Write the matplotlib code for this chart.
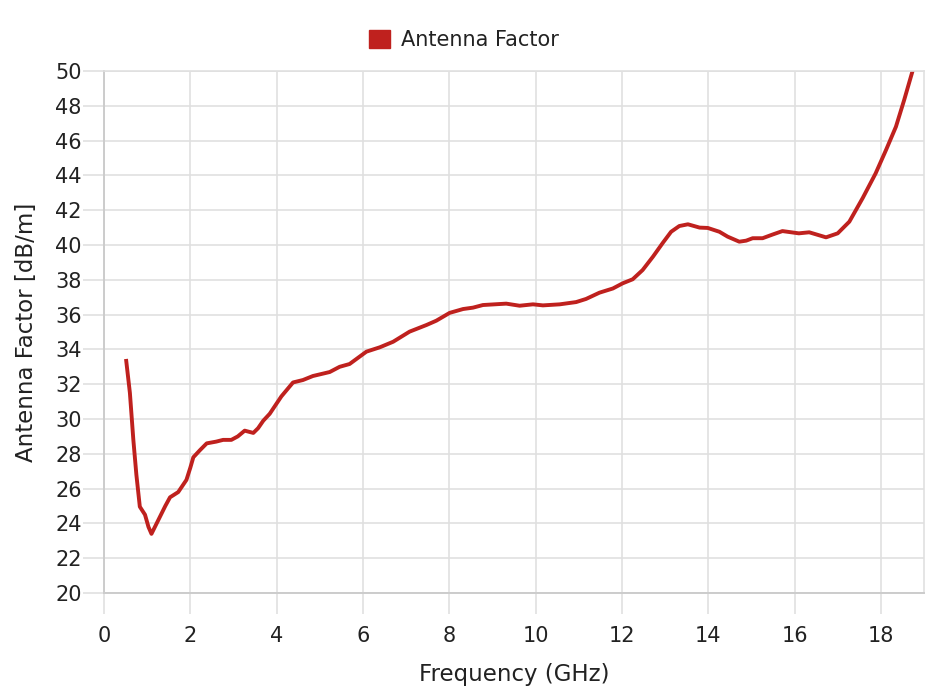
import numpy as np
from matplotlib import pyplot as plt

plt.rcParams['font.family'] = ['DejaVu Sans']

# antenna factor
freq_ghz = [0.51, 0.60, 0.68, 0.75, 0.83, 0.95, 1.03, 1.10, 1.18, 1.30, 1.42, 1.53,
            1.72, 1.91, 2.00, 2.07, 2.22, 2.38, 2.60, 2.76, 2.95, 3.10, 3.26, 3.46,
            3.57, 3.69, 3.84, 4.11, 4.38, 4.61, 4.84, 5.23, 5.46, 5.69, 6.08, 6.39,
            6.70, 7.08, 7.47, 7.70, 8.01, 8.32, 8.55, 8.78, 9.32, 9.63, 9.94, 10.17,
            10.56, 10.94, 11.17, 11.48, 11.79, 12.02, 12.25, 12.48, 12.72, 12.95,
            13.14, 13.33, 13.53, 13.80, 13.99, 14.26, 14.45, 14.72, 14.88, 15.03,
            15.26, 15.49, 15.72, 16.10, 16.34, 16.73, 17.00, 17.27, 17.58, 17.88,
            18.12, 18.35, 18.54, 18.73, 18.80]
af_db = [33.45, 31.5, 28.8, 26.8, 24.96, 24.5, 23.8, 23.4, 23.8, 24.4, 25.0, 25.5,
         25.8, 26.5, 27.2, 27.8, 28.2, 28.6, 28.7, 28.8, 28.8, 29.0, 29.33, 29.2,
         29.47, 29.9, 30.3, 31.3, 32.1, 32.24, 32.47, 32.7, 33.0, 33.16, 33.87, 34.12,
         34.44, 35.02, 35.4, 35.65, 36.1, 36.32, 36.4, 36.55, 36.63, 36.51, 36.59, 36.53,
         36.59, 36.72, 36.9, 37.26, 37.5, 37.8, 38.03, 38.56, 39.33, 40.13,
         40.76, 41.09, 41.19, 41.0, 40.98, 40.76, 40.48, 40.19, 40.25, 40.39,
         40.39, 40.6, 40.8, 40.67, 40.73, 40.44, 40.67, 41.34, 42.7, 44.12,
         45.46, 46.8, 48.33, 49.96, 50.4]

x_ticks = np.arange(0, 20, 2)
y_ticks = np.arange(20, 52, 2)
line_color = '#bf211e'
text_color = '#222222'

fig = plt.figure(figsize=(9.3, 6.96), dpi=100)
ax = fig.add_axes([104 / 930, 103 / 696, 820 / 930, 522 / 696])

ax.plot(freq_ghz, af_db, color=line_color, lw=2.8, solid_joinstyle='round',
        solid_capstyle='butt', label='Antenna Factor')

ax.set_xlim(0, 19)
ax.set_ylim(20, 50)
ax.set_xticks(x_ticks)
ax.set_yticks(y_ticks)
ax.grid(True, color='#e0e0e0', lw=1.2)
ax.set_axisbelow(True)
ax.tick_params(axis='both', length=15, width=1.2, color='#e0e0e0',
               labelsize=15, labelcolor=text_color)
ax.tick_params(axis='y', pad=1)
ax.tick_params(axis='x', pad=9)

for side in ['top', 'right']:
    ax.spines[side].set_color('#e0e0e0')
    ax.spines[side].set_linewidth(1.2)
for side in ['left', 'bottom']:
    ax.spines[side].set_color('#cccccc')
    ax.spines[side].set_linewidth(1.4)

ax.set_xlabel('Frequency (GHz)', fontsize=16.5, color=text_color, labelpad=12)
ax.set_ylabel('Antenna Factor [dB/m]', fontsize=16.5, color=text_color, labelpad=12)

handle = plt.Rectangle((0, 0), 1, 1, color=line_color)
fig.legend([handle], ['Antenna Factor'], loc='center', bbox_to_anchor=(464 / 930, 1 - 40 / 696),
           frameon=False, fontsize=15, handlelength=1.0, handleheight=1.0,
           handletextpad=0.5, labelcolor=text_color)

fig.savefig('out.png', dpi=100)
